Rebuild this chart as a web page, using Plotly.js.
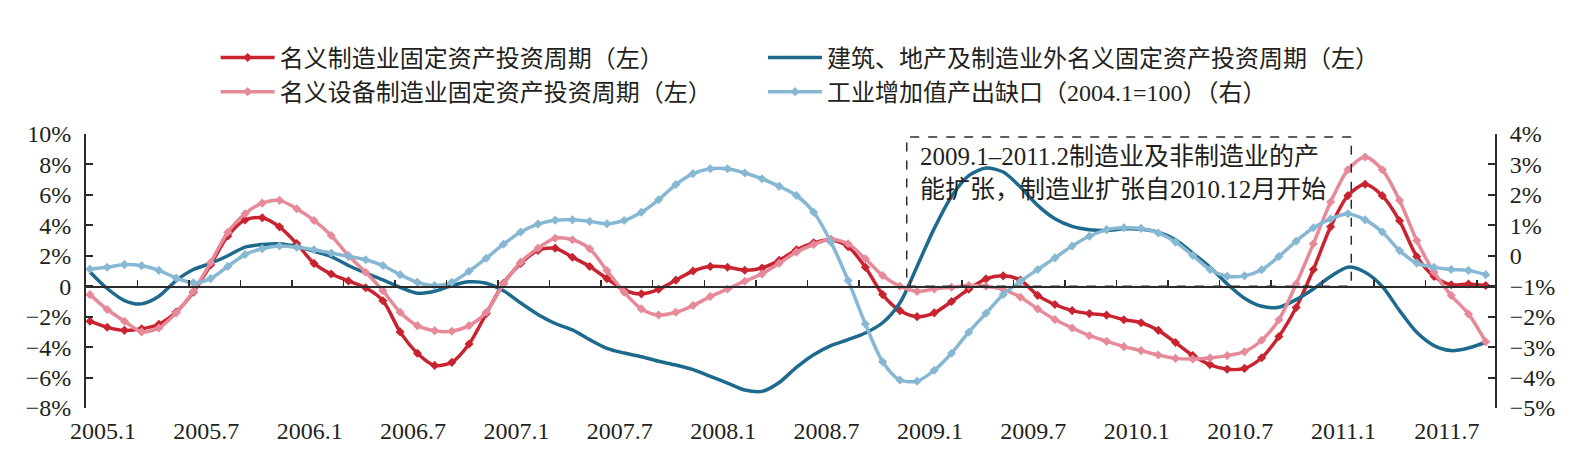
<!DOCTYPE html>
<html>
<head>
<meta charset="utf-8">
<script src="https://cdn.plot.ly/plotly-3.0.1.min.js"></script>
<style>html,body{margin:0;padding:0;background:#fff;}#chart{width:1586px;height:475px;}</style>
</head>
<body>
<div id="chart"></div>
<script>
// Monthly data, 2005.1 – 2011.10 (82 months)
const seriesNames = [
  '名义制造业固定资产投资周期（左）',
  '建筑、地产及制造业外名义固定资产投资周期（左）',
  '名义设备制造业固定资产投资周期（左）',
  '工业增加值产出缺口（2004.1=100）（右）'
];
const mfgNominal = [-2.3,-2.7,-2.9,-2.8,-2.5,-1.7,-0.4,1.4,3.3,4.35,
  4.5,3.9,2.8,1.5,0.8,0.35,-0.1,-0.95,-3.0,-4.4,
  -5.2,-5.0,-3.8,-1.8,0.2,1.5,2.35,2.5,1.9,1.3,
  0.5,-0.25,-0.5,-0.2,0.4,1.0,1.3,1.25,1.05,1.2,
  1.7,2.4,2.85,3.05,2.6,1.25,-0.55,-1.6,-2.0,-1.75,
  -1.0,-0.2,0.48,0.68,0.4,-0.6,-1.2,-1.6,-1.8,-1.9,
  -2.2,-2.4,-2.9,-3.7,-4.55,-5.15,-5.45,-5.4,-4.7,-3.3,
  -1.4,1.1,3.9,5.95,6.7,5.95,4.3,1.95,0.65,0.1,
  0.15,0.05];
const nonMfg = [0.94,-0.15,-0.94,-1.16,-0.66,0.37,1.1,1.5,2.0,2.57,
  2.74,2.79,2.6,2.3,1.95,1.36,0.86,0.42,-0.07,-0.46,
  -0.33,0.04,0.29,0.2,-0.3,-1.1,-1.85,-2.45,-2.87,-3.51,
  -4.08,-4.39,-4.63,-4.93,-5.18,-5.48,-5.92,-6.36,-6.82,-6.91,
  -6.32,-5.33,-4.5,-3.9,-3.51,-3.07,-2.4,-1.1,1.3,3.8,
  5.9,7.26,7.76,7.5,6.51,5.31,4.43,3.93,3.71,3.66,
  3.77,3.75,3.55,3.05,2.17,1.25,0.15,-0.79,-1.32,-1.38,
  -0.88,-0.18,0.64,1.25,0.92,-0.02,-1.6,-3.03,-3.9,-4.23,
  -4.06,-3.68];
const equipMfg = [-0.55,-1.53,-2.3,-3.0,-2.74,-1.75,-0.33,1.55,3.55,4.76,
  5.46,5.64,5.09,4.32,3.33,2.02,0.92,-0.29,-1.71,-2.59,
  -2.92,-2.96,-2.59,-1.71,0.15,1.58,2.5,3.15,3.05,2.46,
  1.03,-0.39,-1.49,-1.89,-1.71,-1.27,-0.68,-0.18,0.33,0.81,
  1.51,2.24,2.74,3.09,2.79,1.8,0.7,0.0,-0.34,-0.18,
  -0.07,0.04,0.0,-0.22,-0.72,-1.49,-2.19,-2.74,-3.25,-3.62,
  -3.97,-4.23,-4.52,-4.74,-4.78,-4.71,-4.56,-4.3,-3.55,-2.2,
  0.15,2.79,5.53,7.65,8.49,7.65,5.64,3.0,0.92,-0.61,
  -1.82,-3.65];
const outputGap = [-0.44,-0.375,-0.29,-0.33,-0.48,-0.73,-0.89,-0.75,-0.35,0.04,
  0.23,0.32,0.28,0.2,0.09,-0.02,-0.13,-0.32,-0.62,-0.87,
  -0.98,-0.87,-0.51,-0.08,0.38,0.78,1.04,1.17,1.18,1.13,
  1.05,1.16,1.43,1.84,2.34,2.7,2.86,2.86,2.72,2.53,
  2.28,1.98,1.43,0.45,-0.81,-2.24,-3.48,-4.08,-4.12,-3.76,
  -3.2,-2.51,-1.89,-1.27,-0.84,-0.45,-0.07,0.32,0.64,0.86,
  0.92,0.9,0.75,0.45,0.01,-0.45,-0.67,-0.66,-0.46,-0.02,
  0.48,0.92,1.21,1.38,1.18,0.78,0.17,-0.24,-0.38,-0.45,
  -0.48,-0.62];

const xLabels = ['2005.1','2005.7','2006.1','2006.7','2007.1','2007.7','2008.1',
  '2008.7','2009.1','2009.7','2010.1','2010.7','2011.1','2011.7'];
const leftTickVals = [10,8,6,4,2,0,-2,-4,-6,-8];
const leftTickText = ['10%','8%','6%','4%','2%','0','−2%','−4%','−6%','−8%'];
const rightTickVals = [4,3,2,1,0,-1,-2,-3,-4,-5];
const rightTickText = ['4%','3%','2%','1%','0','−1%','−2%','−3%','−4%','−5%'];
const noteText = '2009.1–2011.2制造业及非制造业的产<br>能扩张，制造业扩张自2010.12月开始';

const colors = ['#C8232F', '#1D6A8D', '#E68A9A', '#86B8D4'];
const serif = '"Liberation Serif", "Noto Sans CJK SC", serif';
const textColor = '#231F20';

const idx = mfgNominal.map((_, i) => i);
const xRange = [-0.23, 81.54];
const labelPos = xLabels.map((_, k) => 6 * k + 0.75);
const boxX0 = 47.4, boxX1 = 73.2, boxTop = 9.81;

function lineTrace(y, k, withMarkers, xa, ya, legendId) {
  return {
    x: idx, y: y, name: seriesNames[k], type: 'scatter',
    mode: withMarkers ? 'lines+markers' : 'lines',
    xaxis: xa, yaxis: ya, legend: legendId,
    line: {color: colors[k], width: 3.5, shape: 'spline', smoothing: 0.8},
    marker: {symbol: 'diamond', size: 7, color: colors[k]},
    hoverinfo: 'y'
  };
}

const data = [
  lineTrace(mfgNominal, 0, true, 'x', 'y', 'legend'),
  lineTrace(nonMfg, 1, false, 'x', 'y', 'legend2'),
  lineTrace(equipMfg, 2, true, 'x', 'y', 'legend'),
  lineTrace(outputGap, 3, true, 'x2', 'y2', 'legend2')
];

const legendFont = {family: serif, size: 24, color: textColor};
const axisColor = '#2b2b2b';
const layout = {
  width: 1586, height: 475,
  margin: {l: 86, r: 91, t: 134, b: 67},
  paper_bgcolor: '#fff', plot_bgcolor: '#fff',
  showlegend: true,
  legend: {
    orientation: 'v', x: 0.092, y: 1.36, xanchor: 'left', yanchor: 'top',
    font: legendFont, itemwidth: 54, bgcolor: 'rgba(0,0,0,0)', traceorder: 'normal'
  },
  legend2: {
    orientation: 'v', x: 0.4805, y: 1.36, xanchor: 'left', yanchor: 'top',
    font: legendFont, itemwidth: 54, bgcolor: 'rgba(0,0,0,0)', traceorder: 'normal'
  },
  xaxis: {
    range: xRange, showline: false, zeroline: false, showgrid: false,
    tickmode: 'array', tickvals: labelPos, ticktext: xLabels,
    ticks: '', ticklabelstandoff: 6,
    tickfont: {family: serif, size: 24, color: textColor}
  },
  xaxis2: {
    overlaying: 'x', range: xRange, anchor: 'free', position: 8 / 18,
    showline: true, linecolor: axisColor, linewidth: 1.5,
    ticks: 'inside', ticklen: 6, tickwidth: 1.5, tickcolor: axisColor,
    tickmode: 'linear', tick0: -0.23, dtick: 2.99,
    showticklabels: false, showgrid: false, zeroline: false
  },
  yaxis: {
    range: [-8, 10], tickmode: 'array', tickvals: leftTickVals, ticktext: leftTickText,
    showline: true, linecolor: axisColor, linewidth: 2,
    ticks: 'inside', ticklen: 7, tickwidth: 2, tickcolor: axisColor,
    showgrid: false, zeroline: false, ticklabelstandoff: 8,
    tickfont: {family: serif, size: 24, color: textColor}
  },
  yaxis2: {
    overlaying: 'y', side: 'right', anchor: 'x',
    range: [-5, 4], tickmode: 'array', tickvals: rightTickVals, ticktext: rightTickText,
    showline: true, linecolor: axisColor, linewidth: 2,
    ticks: 'inside', ticklen: 7, tickwidth: 2, tickcolor: axisColor,
    showgrid: false, zeroline: false, ticklabelstandoff: 8,
    tickfont: {family: serif, size: 24, color: textColor}
  },
  shapes: [{
    type: 'rect', xref: 'x', yref: 'y', x0: boxX0, x1: boxX1, y0: 0, y1: boxTop,
    line: {dash: 'dash', color: axisColor, width: 1.5}, fillcolor: 'rgba(0,0,0,0)'
  }],
  annotations: [{
    xref: 'x', yref: 'y', x: 48.06, y: 7.44, xanchor: 'left', yanchor: 'middle',
    align: 'left', showarrow: false, text: noteText,
    font: {family: serif, size: 25, color: textColor}
  }]
};

Plotly.newPlot('chart', data, layout, {displayModeBar: false, staticPlot: true});
</script>
</body>
</html>
